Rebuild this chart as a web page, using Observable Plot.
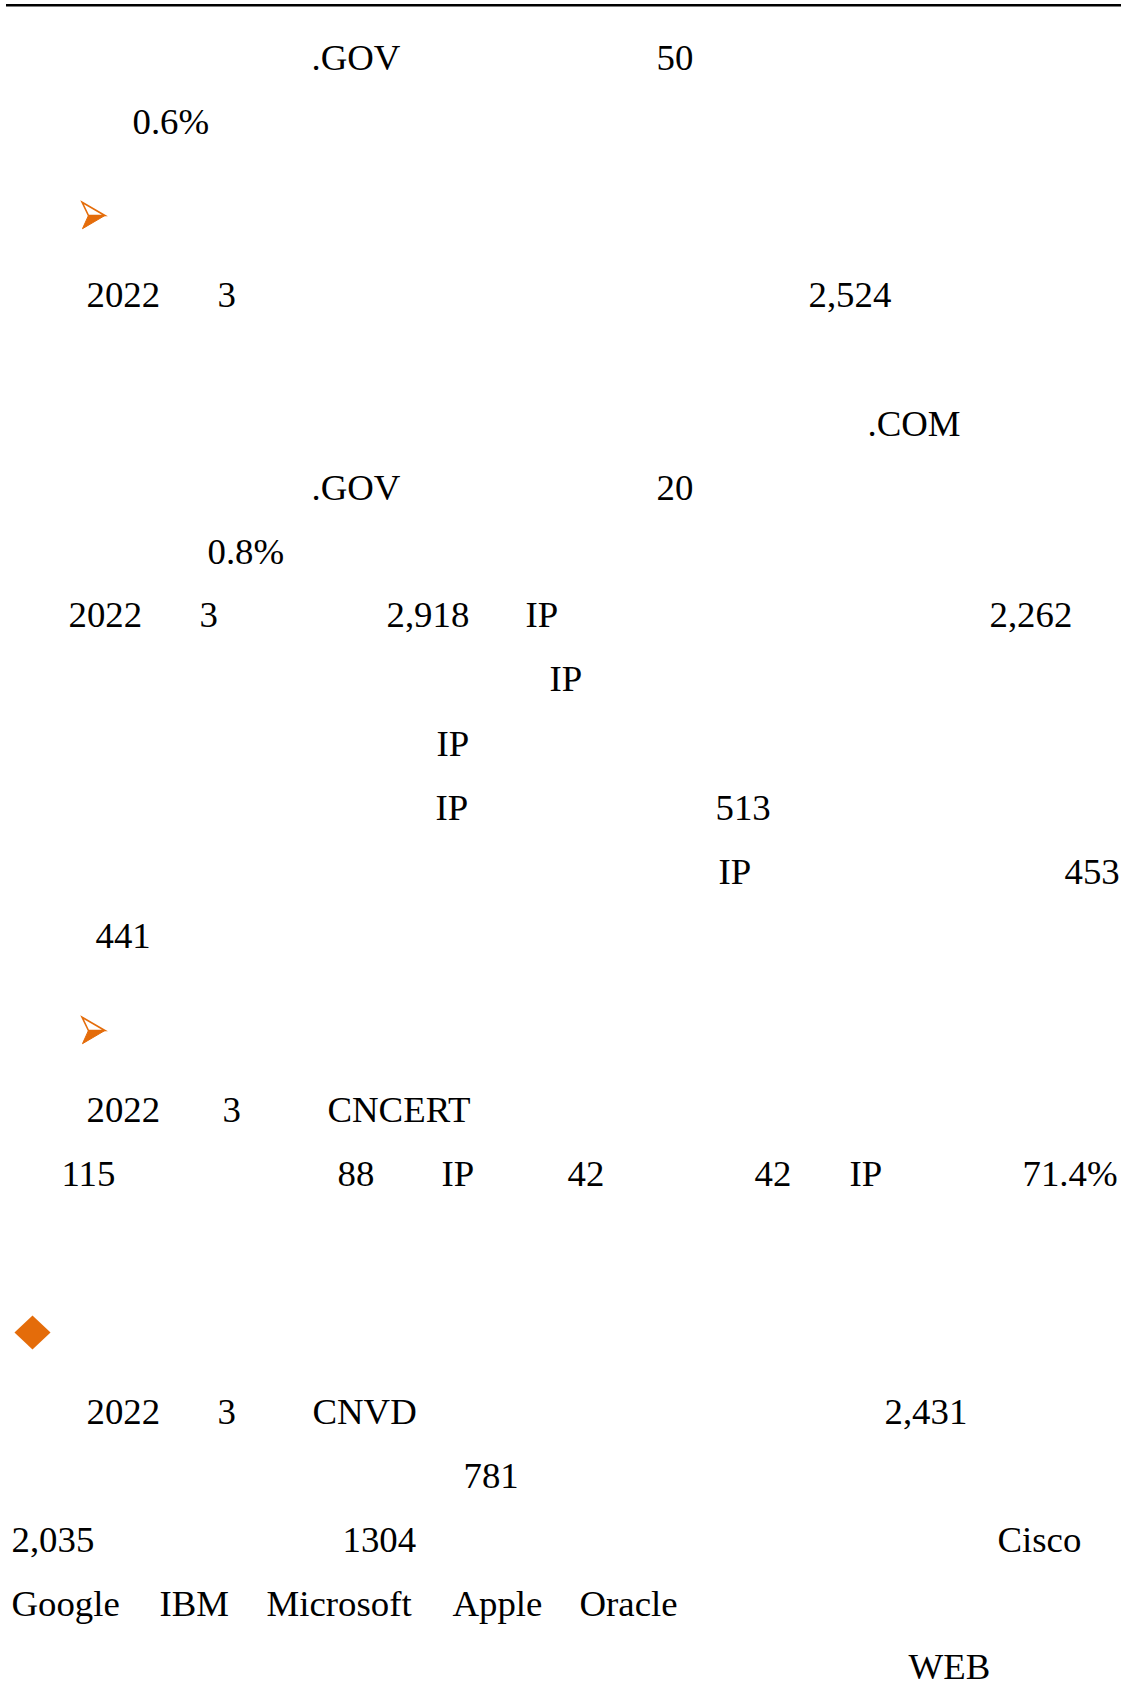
<!DOCTYPE html>
<html>
<head>
<meta charset="utf-8">
<script src="https://cdn.jsdelivr.net/npm/d3@7"></script>
<script src="https://cdn.jsdelivr.net/npm/@observablehq/plot@0.6"></script>
<style>
  html, body { margin: 0; padding: 0; background: #ffffff; overflow: hidden; }
  #chart svg { display: block; }
</style>
</head>
<body>
<div id="chart"></div>
<script>
// ---- Data: visible text tokens of the page (line index, column offset, text) ----
const lineBaselines = [69, 133, 306.7, 435, 499, 563, 626.7, 690.7, 755, 819.3, 883.3, 947.7, 1121.7, 1185.7, 1423.3, 1487.3, 1551.7, 1615, 1678.3];

const tokenLine = [
  0, 0,
  1,
  2, 2, 2,
  3,
  4, 4,
  5,
  6, 6, 6, 6, 6,
  7,
  8,
  9, 9,
  10, 10,
  11,
  12, 12, 12,
  13, 13, 13, 13, 13, 13, 13,
  14, 14, 14, 14,
  15,
  16, 16, 16,
  17, 17, 17, 17, 17,
  18
];
const tokenCol = [
  311, 656,
  132,
  86, 217, 808,
  867,
  311, 656,
  207,
  68, 199, 386, 525, 989,
  549,
  436,
  435, 715,
  718, 1064,
  95,
  86, 222, 327,
  61, 337, 441, 567, 754, 849, 1022,
  86, 217, 312, 884,
  463,
  11, 342, 997,
  11, 159, 266, 452, 579,
  908
];
const tokenText = [
  ".GOV", "50",
  "0.6%",
  "2022", "3", "2,524",
  ".COM",
  ".GOV", "20",
  "0.8%",
  "2022", "3", "2,918", "IP", "2,262",
  "IP",
  "IP",
  "IP", "513",
  "IP", "453",
  "441",
  "2022", "3", "CNCERT",
  "115", "88", "IP", "42", "42", "IP", "71.4%",
  "2022", "3", "CNVD", "2,431",
  "781",
  "2,035", "1304", "Cisco",
  "Google", "IBM", "Microsoft", "Apple", "Oracle",
  "WEB"
];

// bullet markers (kind, x, y)
const markerKind = ["arrow", "arrow", "diamond"];
const markerX = [93, 93, 32];
const markerY = [215, 1030, 1332];

// top rule
const ruleY = [4.7];
const ruleX1 = [6];
const ruleX2 = [1121];

// ---- Build tables ----
const tokens = tokenText.map((t, i) => ({text: t, x: tokenCol[i], y: lineBaselines[tokenLine[i]]}));
const markers = markerKind.map((k, i) => ({kind: k, x: markerX[i], y: markerY[i]}));
const arrows = markers.filter(d => d.kind === "arrow");
const diamonds = markers.filter(d => d.kind === "diamond");
const rules = ruleY.map((y, i) => ({y, x1: ruleX1[i], x2: ruleX2[i]}));

const ORANGE = "#E46C0A";

// custom symbols (unit shapes scaled by r = sqrt(size/π))
const arrowTop = {draw(ctx, size) {
  const r = Math.sqrt(size / Math.PI);
  ctx.moveTo(-0.95 * r, -1.1 * r);
  ctx.lineTo(0.95 * r, 0);
  ctx.lineTo(-0.42 * r, 0);
  ctx.closePath();
}};
const arrowBottom = {draw(ctx, size) {
  const r = Math.sqrt(size / Math.PI);
  ctx.moveTo(-0.42 * r, 0);
  ctx.lineTo(0.95 * r, 0);
  ctx.lineTo(-0.92 * r, 1.1 * r);
  ctx.closePath();
}};
const rhombus = {draw(ctx, size) {
  const r = Math.sqrt(size / Math.PI);
  ctx.moveTo(0, -0.97 * r);
  ctx.lineTo(1.03 * r, 0);
  ctx.lineTo(0, 0.97 * r);
  ctx.lineTo(-1.03 * r, 0);
  ctx.closePath();
}};

const W = 1121, H = 1685;
const chart = Plot.plot({
  width: W,
  height: H,
  margin: 0,
  x: {domain: [0, W], range: [0, W], axis: null},
  y: {domain: [0, H], range: [0, H], axis: null},
  style: {background: "#ffffff", fontFamily: "'Liberation Serif', 'Times New Roman', serif"},
  marks: [
    Plot.ruleY(rules, {y: "y", x1: "x1", x2: "x2", stroke: "#000000", strokeWidth: 2.6}),
    Plot.text(tokens, {
      x: "x", y: "y", text: "text",
      textAnchor: "start", lineAnchor: "bottom",
      fontSize: 36.8, fontFamily: "'Liberation Serif', 'Times New Roman', serif",
      fill: "#000000"
    }),
    Plot.dot(arrows, {x: "x", y: "y", r: 12, symbol: arrowTop, fill: "#ffffff", stroke: ORANGE, strokeWidth: 1.6}),
    Plot.dot(arrows, {x: "x", y: "y", r: 12, symbol: arrowBottom, fill: ORANGE, stroke: ORANGE, strokeWidth: 1}),
    Plot.dot(diamonds, {x: "x", y: "y", r: 17.5, symbol: rhombus, fill: ORANGE, stroke: "none"})
  ]
});
document.getElementById("chart").appendChild(chart);
</script>
</body>
</html>
